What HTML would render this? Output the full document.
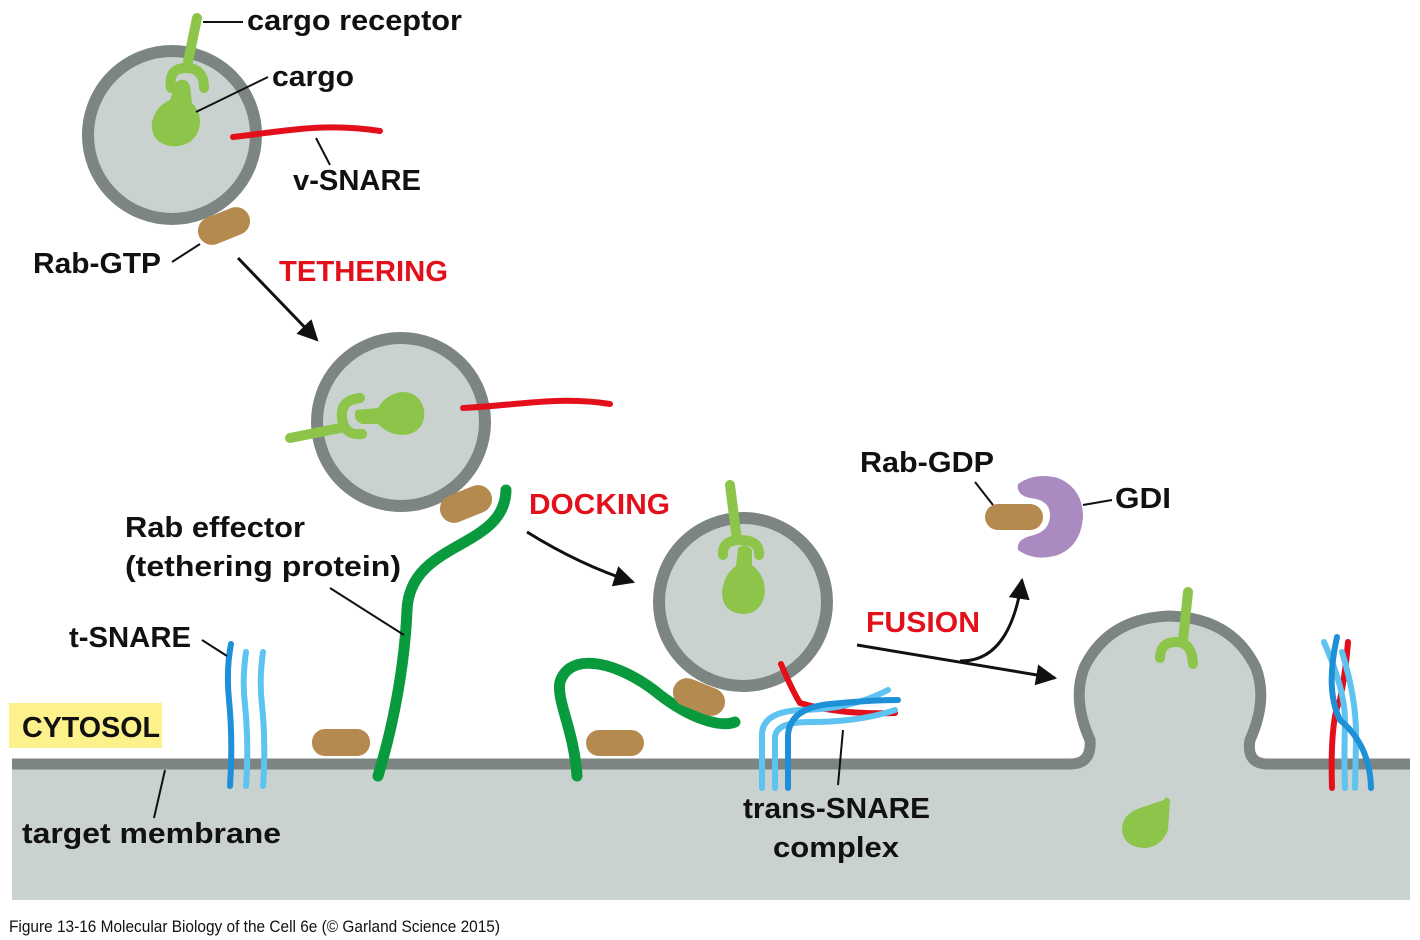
<!DOCTYPE html>
<html><head><meta charset="utf-8"><style>
html,body{margin:0;padding:0;background:#fff;}
svg{display:block;}
text{font-family:"Liberation Sans",sans-serif;font-weight:bold;font-size:29px;fill:#111;}
.r{fill:#e3101c;}
</style></head><body>
<svg width="1420" height="940" viewBox="0 0 1420 940" xmlns="http://www.w3.org/2000/svg">
<defs>
<marker id="ah" viewBox="0 0 10 10" refX="9" refY="5" markerWidth="7" markerHeight="7" orient="auto"><path d="M0,0 L10,5 L0,10 Z" fill="#111"/></marker>
</defs>
<!-- membrane -->
<path d="M12,764 L1070,764 Q1092,764 1090,740 Q1072,700 1084,668 Q1108,618 1170,616 Q1232,618 1256,668 Q1268,700 1250,740 Q1246,764 1268,764 L1410,764 L1410,900 L12,900 Z" fill="#c9d2ce"/>
<path d="M12,764 L1070,764 Q1092,764 1090,740 Q1072,700 1084,668 Q1108,618 1170,616 Q1232,618 1256,668 Q1268,700 1250,740 Q1246,764 1268,764 L1410,764" fill="none" stroke="#7d8583" stroke-width="11"/>
<rect x="9" y="703" width="153" height="45" fill="#fcf18a"/>

<!-- vesicle 1 -->
<circle cx="172" cy="135" r="84" fill="#c9d2ce" stroke="#7d8583" stroke-width="12"/>
<line x1="197" y1="18" x2="188" y2="62" stroke="#8dc44a" stroke-width="10" stroke-linecap="round"/>
<path d="M171,88 Q168,68 186,68 Q204,68 204,88" fill="none" stroke="#8dc44a" stroke-width="10" stroke-linecap="round"/>
<path d="M176,82 Q186,76 190,86 L192,103 Q204,115 198,132 Q190,148 170,146 Q150,142 152,122 Q156,106 170,100 Z" fill="#8dc44a"/>
<path d="M233,137 C280,132 320,122 380,131" fill="none" stroke="#e3101c" stroke-width="6" stroke-linecap="round"/>
<rect x="197" y="212" width="54" height="28" rx="14" fill="#b48a4e" transform="rotate(-22 224 226)"/>

<!-- vesicle 2 -->
<circle cx="401" cy="422" r="84" fill="#c9d2ce" stroke="#7d8583" stroke-width="12"/>
<line x1="290" y1="438" x2="340" y2="428" stroke="#8dc44a" stroke-width="10" stroke-linecap="round"/>
<path d="M360,398 Q340,400 342,418 Q344,436 362,434" fill="none" stroke="#8dc44a" stroke-width="10" stroke-linecap="round"/>
<path d="M356,410 Q352,420 362,424 L378,424 Q392,438 410,434 Q426,428 424,410 Q420,392 402,392 Q386,394 378,408 Z" fill="#8dc44a"/>
<path d="M463,408 C520,405 560,396 610,404" fill="none" stroke="#e3101c" stroke-width="6" stroke-linecap="round"/>
<rect x="439" y="490" width="54" height="28" rx="14" fill="#b48a4e" transform="rotate(-22 466 504)"/>
<path d="M378,776 C395,720 405,660 407,610 C410,540 505,550 506,490" fill="none" stroke="#0a9a3e" stroke-width="11" stroke-linecap="round"/>
<rect x="312" y="729" width="58" height="27" rx="13" fill="#b48a4e"/>

<!-- t-SNARE -->
<path d="M231,644 Q226,670 229,700 Q233,740 230,786" fill="none" stroke="#1e90d8" stroke-width="6" stroke-linecap="round"/>
<path d="M246,652 Q242,680 245,705 Q249,745 246,786" fill="none" stroke="#5ec3f0" stroke-width="6" stroke-linecap="round"/>
<path d="M263,652 Q259,680 262,705 Q266,745 263,786" fill="none" stroke="#5ec3f0" stroke-width="6" stroke-linecap="round"/>

<!-- vesicle 3 docking -->
<path d="M577,776 C574,730 556,700 560,682 C570,650 620,662 660,695 C690,718 720,728 735,722" fill="none" stroke="#0a9a3e" stroke-width="11" stroke-linecap="round"/>
<rect x="586" y="730" width="58" height="26" rx="13" fill="#b48a4e"/>
<circle cx="743" cy="602" r="84" fill="#c9d2ce" stroke="#7d8583" stroke-width="12"/>
<rect x="672" y="683" width="54" height="28" rx="14" fill="#b48a4e" transform="rotate(22 699 697)"/>
<line x1="730" y1="485" x2="737" y2="540" stroke="#8dc44a" stroke-width="10" stroke-linecap="round"/>
<path d="M723,555 Q722,540 740,540 Q760,540 759,555" fill="none" stroke="#8dc44a" stroke-width="10" stroke-linecap="round"/>
<path d="M738,548 Q746,542 752,550 L752,565 Q768,578 764,598 Q758,615 742,614 Q722,612 722,592 Q724,574 736,566 Z" fill="#8dc44a"/>
<path d="M781,664 Q792,690 800,703 Q840,715 895,713" fill="none" stroke="#e3101c" stroke-width="6" stroke-linecap="round"/>
<path d="M762,788 L762,735 Q762,712 800,710 Q850,710 888,690" fill="none" stroke="#5ec3f0" stroke-width="6" stroke-linecap="round"/>
<path d="M775,788 L775,738 Q775,722 810,722 Q860,722 895,710" fill="none" stroke="#5ec3f0" stroke-width="6" stroke-linecap="round"/>
<path d="M788,788 L788,735 Q790,708 830,704 Q870,700 898,700" fill="none" stroke="#1e90d8" stroke-width="6" stroke-linecap="round"/>

<!-- GDI -->
<path d="M1018,484 Q1035,472 1058,478 Q1082,488 1083,515 Q1082,545 1058,555 Q1035,562 1018,550 Q1016,540 1030,536 Q1050,532 1050,515 Q1050,500 1030,498 Q1016,495 1018,484 Z" fill="#a98bc2"/>
<rect x="985" y="504" width="58" height="26" rx="13" fill="#b48a4e"/>

<!-- fused vesicle contents -->
<line x1="1188" y1="592" x2="1183" y2="640" stroke="#8dc44a" stroke-width="10" stroke-linecap="round"/>
<path d="M1160,658 Q1160,642 1176,642 Q1192,642 1193,664" fill="none" stroke="#8dc44a" stroke-width="10" stroke-linecap="round"/>
<path d="M1164,800 Q1166,795 1170,800 L1168,830 Q1162,846 1146,848 Q1124,848 1122,830 Q1122,814 1140,808 Z" fill="#8dc44a"/>
<path d="M1332,788 Q1330,720 1340,700 Q1346,670 1348,642" fill="none" stroke="#e3101c" stroke-width="6" stroke-linecap="round"/>
<path d="M1324,642 Q1345,690 1345,720 Q1344,760 1345,788" fill="none" stroke="#5ec3f0" stroke-width="6" stroke-linecap="round"/>
<path d="M1342,652 Q1357,700 1356,740 L1355,788" fill="none" stroke="#5ec3f0" stroke-width="6" stroke-linecap="round"/>
<path d="M1337,637 Q1325,690 1340,720 Q1370,745 1371,788" fill="none" stroke="#1e90d8" stroke-width="6" stroke-linecap="round"/>

<!-- arrows -->
<g stroke="#111" stroke-width="3" fill="none">
<line x1="238" y1="258" x2="317" y2="340" marker-end="url(#ah)"/>
<path d="M527,532 Q580,565 633,582" marker-end="url(#ah)"/>
<path d="M857,645 L1055,678" marker-end="url(#ah)"/>
<path d="M960,661 Q1010,662 1022,580" marker-end="url(#ah)"/>
</g>
<!-- leaders -->
<g stroke="#111" stroke-width="2" fill="none">
<line x1="203" y1="22" x2="243" y2="22"/>
<line x1="196" y1="112" x2="268" y2="77"/>
<line x1="316" y1="138" x2="330" y2="165"/>
<line x1="172" y1="262" x2="200" y2="244"/>
<line x1="330" y1="588" x2="404" y2="635"/>
<line x1="202" y1="640" x2="227" y2="656"/>
<line x1="165" y1="770" x2="154" y2="818"/>
<line x1="843" y1="730" x2="838" y2="785"/>
<line x1="975" y1="482" x2="993" y2="505"/>
<line x1="1083" y1="505" x2="1112" y2="500"/>
</g>
<!-- labels -->
<g lengthAdjust="spacingAndGlyphs">
<text x="247" y="30" textLength="215" lengthAdjust="spacingAndGlyphs">cargo receptor</text>
<text x="272" y="86" textLength="82" lengthAdjust="spacingAndGlyphs">cargo</text>
<text x="293" y="190" textLength="128" lengthAdjust="spacingAndGlyphs">v-SNARE</text>
<text x="33" y="273" textLength="128" lengthAdjust="spacingAndGlyphs">Rab-GTP</text>
<text x="279" y="281" class="r" textLength="169" lengthAdjust="spacingAndGlyphs">TETHERING</text>
<text x="125" y="537" textLength="180" lengthAdjust="spacingAndGlyphs">Rab effector</text>
<text x="125" y="576" textLength="276" lengthAdjust="spacingAndGlyphs">(tethering protein)</text>
<text x="69" y="647" textLength="122" lengthAdjust="spacingAndGlyphs">t-SNARE</text>
<text x="22" y="737" textLength="138" lengthAdjust="spacingAndGlyphs">CYTOSOL</text>
<text x="22" y="843" textLength="259" lengthAdjust="spacingAndGlyphs">target membrane</text>
<text x="529" y="514" class="r" textLength="141" lengthAdjust="spacingAndGlyphs">DOCKING</text>
<text x="860" y="472" textLength="134" lengthAdjust="spacingAndGlyphs">Rab-GDP</text>
<text x="1115" y="508" textLength="56" lengthAdjust="spacingAndGlyphs">GDI</text>
<text x="866" y="632" class="r" textLength="114" lengthAdjust="spacingAndGlyphs">FUSION</text>
<text x="743" y="818" textLength="187" lengthAdjust="spacingAndGlyphs">trans-SNARE</text>
<text x="773" y="857" textLength="126" lengthAdjust="spacingAndGlyphs">complex</text>
<text x="9" y="932" style="font-weight:normal;font-size:17px" textLength="491" lengthAdjust="spacingAndGlyphs">Figure 13-16  Molecular Biology of the Cell 6e (© Garland Science 2015)</text>
</g>
</svg>
</body></html>
